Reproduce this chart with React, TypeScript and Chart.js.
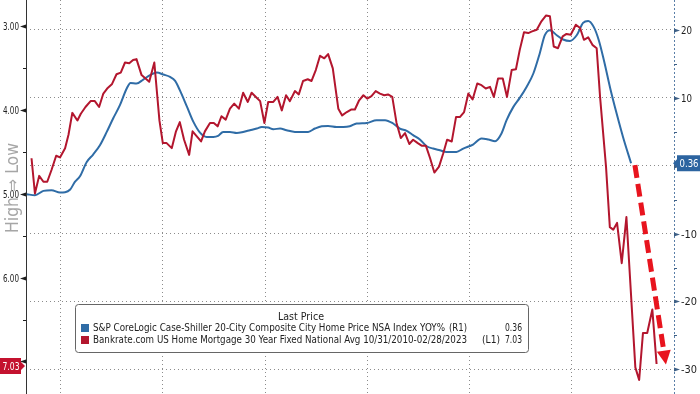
import React, { useEffect, useRef } from "react";
import { Chart, registerables } from "chart.js";
Chart.register(...registerables);

// x values are months since 10/31/2010
const redMonths = [1.3,2.1,3.1,4.1,5.0,6.0,7.1,8.0,9.2,10.0,10.9,12.1,12.9,14.0,15.2,16.2,17.2,18.2,19.1,20.2,21.3,22.3,23.3,24.3,25.2,26.0,27.2,29.0,30.2,31.4,32.2,33.1,34.3,35.3,36.2,37.2,38.4,39.2,40.2,41.2,42.1,43.3,44.2,45.1,46.0,47.0,48.0,49.0,50.1,51.1,52.2,53.1,54.1,55.1,56.1,57.0,58.2,59.2,60.2,61.2,62.1,63.3,64.2,65.2,66.3,67.2,68.2,69.2,70.2,71.1,72.2,73.5,74.4,75.5,76.5,77.4,78.4,79.4,80.3,81.3,82.3,83.3,84.3,85.2,86.2,87.2,88.2,89.2,90.2,91.1,92.2,93.1,94.1,95.1,96.1,97.2,98.2,99.1,100.2,101.2,102.1,103.1,104.1,105.1,106.2,107.2,108.2,109.2,110.1,111.1,112.2,113.2,114.3,115.3,116.2,117.2,118.2,119.1,120.2,121.3,122.4,123.3,124.2,125.2,126.3,127.2,128.2,129.4,130.4,131.3,132.3,133.3,134.3,135.1,136.5,137.4,138.2,139.1,140.2,141.3,143.4,144.3,145.2,146.2,147.4,148.4];
const redRates = [4.58,5.00,4.79,4.86,4.86,4.72,4.55,4.57,4.46,4.30,4.04,4.13,4.05,3.97,3.90,3.90,3.97,3.81,3.75,3.70,3.58,3.56,3.44,3.45,3.41,3.40,3.59,3.67,3.44,4.13,4.40,4.40,4.46,4.26,4.15,4.36,4.54,4.26,4.32,4.38,4.26,4.16,4.16,4.20,4.08,4.12,3.99,3.93,3.99,3.80,3.91,3.80,3.85,3.90,4.16,3.91,3.91,3.85,4.01,3.83,3.90,3.78,3.82,3.66,3.64,3.66,3.53,3.36,3.39,3.34,3.51,3.99,4.07,4.03,4.00,4.00,3.89,3.83,3.87,3.84,3.78,3.81,3.83,3.82,3.85,4.16,4.34,4.28,4.41,4.36,4.40,4.43,4.43,4.58,4.75,4.68,4.52,4.36,4.38,4.09,4.09,4.03,3.81,3.88,3.69,3.71,3.75,3.73,3.85,3.63,3.63,3.85,3.53,3.52,3.29,3.08,3.09,3.07,3.05,2.95,2.88,2.89,3.25,3.27,3.13,3.10,3.11,2.99,3.03,3.17,3.14,3.23,3.27,3.85,4.68,5.40,5.43,5.35,5.83,5.28,7.07,7.22,6.66,6.66,6.38,7.03];

const blueMonths = [0.2,2.1,4.1,6.0,8.0,9.2,10.4,11.5,12.7,14.3,15.8,17.4,19.0,20.5,22.1,23.7,24.6,26.0,27.6,29.2,30.8,32.3,33.9,35.1,36.2,37.9,39.4,41.0,42.5,44.1,45.2,46.4,48.0,49.6,51.1,52.7,54.3,55.5,57.0,58.2,59.8,61.3,63.3,64.9,66.4,68.0,69.6,71.1,73.1,74.7,76.2,77.8,80.2,82.5,84.5,86.4,88.0,89.6,91.1,92.7,94.3,95.8,97.4,99.0,101.3,102.9,105.2,107.2,108.8,110.4,111.9,113.1,114.7,116.2,117.8,119.4,120.9,122.1,123.3,124.9,126.4,128.0,129.6,131.1,132.3,133.6,134.8,136.0,137.6,139.0,140.5,142.4];
const blueYoY = [-4.2,-4.35,-3.71,-3.61,-3.95,-3.91,-3.51,-2.39,-1.55,0.56,1.65,3.02,4.98,6.96,8.92,11.38,12.2,12.11,12.7,13.34,13.74,13.44,13.09,12.5,11.13,8.67,6.46,4.83,4.24,4.24,4.39,4.98,4.98,4.83,4.98,5.23,5.48,5.72,5.63,5.38,5.48,5.23,4.98,4.98,4.98,5.48,5.82,5.87,5.72,5.72,5.82,6.22,6.31,6.71,6.71,6.22,5.48,5.13,4.5,3.86,2.87,2.53,2.28,2.03,2.03,2.53,3.12,4.01,3.86,3.61,4.75,6.71,8.67,9.99,11.61,13.59,16.54,19.23,19.97,19.23,18.6,18.39,19.23,21.05,21.34,20.46,18.5,15.55,11.13,7.69,4.24,0.36];

const gridMonths = [8.2, 32.2, 56.3, 80.3, 104.4, 128.3];
const leftTicks = [3, 3.5, 4, 4.5, 5, 5.5, 6, 6.5, 7];
const rightTicks = [-30, -25, -20, -15, -10, -5, 0, 5, 10, 15, 20];
const lastBlue = 0.36;
const lastRed = 7.03;
const arrowFrom = [143.3, 0.1];
const arrowTo = [150.6, -29.3];
const axisNote = "High \u21D2 Low";
const legendTitle = "Last Price";
const legendNames = [
  "S&P CoreLogic Case-Shiller 20-City Composite City Home Price NSA Index YOY%",
  "Bankrate.com US Home Mortgage 30 Year Fixed National Avg 10/31/2010-02/28/2023",
];
const legendAxes = ["(R1)", "(L1)"];
const legendLasts = ["0.36", "7.03"];

const RED = "#b3162e";
const BLUE = "#2f6ca6";
const FONT = "'DejaVu Sans Condensed','DejaVu Sans',sans-serif";

function fitText(ctx: CanvasRenderingContext2D, text: string, x: number, y: number, w: number, align: CanvasTextAlign) {
  const m = ctx.measureText(text).width || 1;
  ctx.save();
  ctx.translate(x, y);
  ctx.scale(w / m, 1);
  ctx.textAlign = align;
  ctx.fillText(text, 0, 0);
  ctx.restore();
}

const decor = {
  id: "decor",
  afterDatasetsDraw(chart: any) {
    const ctx: CanvasRenderingContext2D = chart.ctx;
    const { left, right, top, bottom } = chart.chartArea;
    const xs = chart.scales.x, yL = chart.scales.yL, yR = chart.scales.yR;
    ctx.save();
    // right axis dotted line
    ctx.strokeStyle = "#5a7fa8";
    ctx.lineWidth = 1;
    ctx.setLineDash([2, 2]);
    ctx.beginPath();
    ctx.moveTo(right + 0.5, top);
    ctx.lineTo(right + 0.5, bottom);
    ctx.stroke();
    ctx.setLineDash([]);

    // left ticks & labels
    ctx.fillStyle = "#1e1e1e";
    ctx.strokeStyle = "#1e1e1e";
    ctx.textBaseline = "middle";
    ctx.font = `11px ${FONT}`;
    for (const v of leftTicks) {
      const py = Math.round(yL.getPixelForValue(v)) + 0.5;
      if (v % 1 === 0) {
        ctx.beginPath();
        ctx.moveTo(left - 6, py);
        ctx.lineTo(left, py - 2);
        ctx.lineTo(left, py + 2);
        ctx.closePath();
        ctx.fill();
        if (v !== 7) fitText(ctx, v.toFixed(2), left - 7, py + 1, 16, "right");
      } else {
        ctx.beginPath();
        ctx.moveTo(left - 3, py);
        ctx.lineTo(left, py);
        ctx.stroke();
      }
    }
    // rotated note on left axis
    ctx.save();
    ctx.translate(18, 188);
    ctx.rotate(-Math.PI / 2);
    ctx.fillStyle = "rgba(150,150,150,0.85)";
    ctx.font = `17px 'DejaVu Sans',sans-serif`;
    ctx.textBaseline = "alphabetic";
    fitText(ctx, axisNote, 0, 0, 90, "center");
    ctx.restore();

    // right ticks & labels
    for (const v of rightTicks) {
      const py = Math.round(yR.getPixelForValue(v)) + 0.5;
      ctx.fillStyle = "#3d5f85";
      ctx.strokeStyle = "#3d5f85";
      if (v % 10 === 0) {
        ctx.beginPath();
        ctx.moveTo(right + 6, py);
        ctx.lineTo(right, py - 2);
        ctx.lineTo(right, py + 2);
        ctx.closePath();
        ctx.fill();
        if (v !== 0) {
          ctx.fillStyle = "#1e1e1e";
          fitText(ctx, String(v), right + 7, py + 1, v < 0 ? 16 : 11, "left");
        }
      } else {
        ctx.beginPath();
        ctx.moveTo(right, py);
        ctx.lineTo(right + 3, py);
        ctx.stroke();
      }
    }

    // dashed arrow
    const p0 = { x: xs.getPixelForValue(arrowFrom[0]), y: yR.getPixelForValue(arrowFrom[1]) };
    const p1 = { x: xs.getPixelForValue(arrowTo[0]), y: yR.getPixelForValue(arrowTo[1]) };
    const ang = Math.atan2(p1.y - p0.y, p1.x - p0.x);
    const hl = 14, hw = 7;
    const bx = p1.x - hl * Math.cos(ang), by = p1.y - hl * Math.sin(ang);
    ctx.strokeStyle = "#e8141e";
    ctx.fillStyle = "#e8141e";
    ctx.lineWidth = 5;
    ctx.setLineDash([13, 6]);
    ctx.beginPath();
    ctx.moveTo(p0.x, p0.y);
    ctx.lineTo(bx, by);
    ctx.stroke();
    ctx.setLineDash([]);
    ctx.beginPath();
    ctx.moveTo(p1.x, p1.y);
    ctx.lineTo(bx + hw * Math.sin(ang), by - hw * Math.cos(ang));
    ctx.lineTo(bx - hw * Math.sin(ang), by + hw * Math.cos(ang));
    ctx.closePath();
    ctx.fill();

    // legend box
    const L = 75, T = 304, R = 528, B = 352;
    ctx.lineWidth = 1;
    ctx.fillStyle = "#ffffff";
    ctx.strokeStyle = "#666";
    ctx.beginPath();
    (ctx as any).roundRect(L + 0.5, T + 0.5, R - L, B - T, 3);
    ctx.fill();
    ctx.stroke();
    ctx.fillStyle = "#222";
    ctx.font = `11px ${FONT}`;
    ctx.textBaseline = "middle";
    fitText(ctx, legendTitle, 301, 317, 46, "center");
    const rowsY = [328, 340];
    const cols = [BLUE, RED];
    const nameW = [352, 374];
    const axX = [449, 482];
    for (let i = 0; i < 2; i++) {
      const ry = rowsY[i];
      ctx.fillStyle = cols[i];
      ctx.fillRect(81, ry - 4, 8, 8);
      ctx.fillStyle = "#222";
      fitText(ctx, legendNames[i], 93, ry, nameW[i], "left");
      fitText(ctx, legendAxes[i], axX[i], ry, 18, "left");
      fitText(ctx, legendLasts[i], 522, ry, 17, "right");
    }

    // last value boxes
    ctx.font = `11px ${FONT}`;
    const ry = yL.getPixelForValue(lastRed) + 2;
    ctx.fillStyle = "#c4122f";
    ctx.beginPath();
    ctx.moveTo(0, ry - 8);
    ctx.lineTo(21, ry - 8);
    ctx.lineTo(21, ry - 4);
    ctx.lineTo(25, ry);
    ctx.lineTo(21, ry + 4);
    ctx.lineTo(21, ry + 8);
    ctx.lineTo(0, ry + 8);
    ctx.closePath();
    ctx.fill();
    ctx.fillStyle = "#fff";
    fitText(ctx, lastRed.toFixed(2), 11, ry + 1, 17, "center");

    const by2 = yR.getPixelForValue(lastBlue);
    ctx.fillStyle = "#2c64a0";
    ctx.beginPath();
    ctx.moveTo(700, by2 - 8);
    ctx.lineTo(677, by2 - 8);
    ctx.lineTo(677, by2 - 4);
    ctx.lineTo(673, by2);
    ctx.lineTo(677, by2 + 4);
    ctx.lineTo(677, by2 + 8);
    ctx.lineTo(700, by2 + 8);
    ctx.closePath();
    ctx.fill();
    ctx.fillStyle = "#fff";
    fitText(ctx, lastBlue.toFixed(2), 689, by2 + 1, 19, "center");
    ctx.restore();
  },
};

export default function App() {
  const ref = useRef<HTMLCanvasElement>(null);
  useEffect(() => {
    const redData = redMonths.map((m, i) => ({ x: m, y: redRates[i] }));
    const blueData = blueMonths.map((m, i) => ({ x: m, y: blueYoY[i] }));
    const chart = new Chart(ref.current!, {
      type: "line",
      data: {
        datasets: [
          { data: redData, yAxisID: "yL", borderColor: RED, borderWidth: 2, pointRadius: 0, tension: 0, borderJoinStyle: "round" },
          { data: blueData, yAxisID: "yR", borderColor: BLUE, borderWidth: 2, pointRadius: 0, cubicInterpolationMode: "monotone" },
        ],
      },
      options: {
        animation: false,
        responsive: false,
        events: [],
        layout: { padding: 0 },
        plugins: { legend: { display: false }, tooltip: { enabled: false }, title: { display: false } },
        scales: {
          x: {
            type: "linear",
            min: 0,
            max: 152.5,
            afterBuildTicks: (s: any) => { s.ticks = gridMonths.map((v) => ({ value: v })); },
            afterFit: (s: any) => { s.height = 0; s.paddingLeft = 0; s.paddingRight = 0; },
            ticks: { display: false },
            grid: { color: "#8c8c8c", lineWidth: 1, drawTicks: false },
            border: { display: false, dash: [1, 3] },
          },
          yL: {
            type: "linear",
            position: "left",
            reverse: true,
            min: 2.696,
            max: 7.387,
            afterBuildTicks: (s: any) => { s.ticks = leftTicks.map((v) => ({ value: v })); },
            afterFit: (s: any) => { s.width = 26; s.paddingTop = 0; s.paddingBottom = 0; },
            ticks: { display: false },
            grid: { display: false, drawTicks: false },
            border: { display: true, color: "#333", width: 1 },
          },
          yR: {
            type: "linear",
            position: "right",
            min: -33.64,
            max: 24.42,
            afterBuildTicks: (s: any) => { s.ticks = rightTicks.map((v) => ({ value: v })); },
            afterFit: (s: any) => { s.width = 26; s.paddingTop = 0; s.paddingBottom = 0; },
            ticks: { display: false },
            grid: {
              drawTicks: false,
              lineWidth: 1,
              color: (c: any) => (c.tick && c.tick.value % 10 === 0 ? "#8c8c8c" : "rgba(0,0,0,0)"),
            },
            border: { display: false, dash: [1, 3] },
          },
        },
      },
      plugins: [decor],
    } as any);
    return () => chart.destroy();
  }, []);
  return (
    <div style={{ position: "absolute", left: 0, top: 0, width: 700, height: 394, background: "#fff" }}>
      <canvas ref={ref} width={700} height={394} style={{ display: "block" }} />
    </div>
  );
}
